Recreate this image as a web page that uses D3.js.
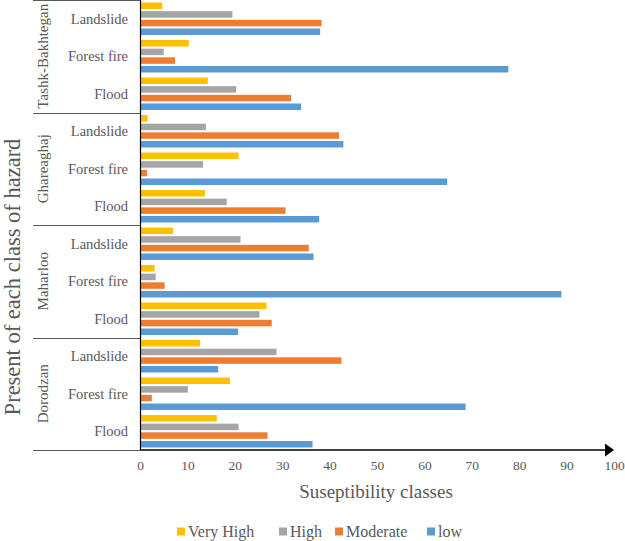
<!DOCTYPE html>
<html>
<head>
<meta charset="utf-8">
<script src="https://cdn.jsdelivr.net/npm/d3@7"></script>
<style>
  html, body { margin: 0; padding: 0; background: #fff; }
  svg { display: block; }
</style>
</head>
<body>
<script>
// ---- data ----
const regions = ["Tashk-Bakhtegan", "Ghareaghaj", "Maharloo", "Dorodzan"];
const hazards = ["Landslide", "Forest fire", "Flood"];
const seriesNames = ["Very High", "High", "Moderate", "low"];
const seriesColors = ["#FFC000", "#A5A5A5", "#ED7D31", "#5B9BD5"];
// values in order: region (top to bottom) x hazard (top to bottom)
const veryHigh = [4.7, 10.3, 14.3, 1.6, 20.8, 13.7, 7.0, 3.1, 26.7, 12.7, 19.0, 16.2];
const high     = [19.5, 5.0, 20.3, 13.9, 13.3, 18.3, 21.2, 3.3, 25.2, 28.8, 10.1, 20.8];
const moderate = [38.3, 7.4, 31.9, 42.0, 1.5, 30.7, 35.6, 5.2, 27.8, 42.5, 2.5, 26.9];
const low      = [38.0, 77.7, 34.0, 42.9, 64.8, 37.8, 36.6, 88.9, 20.7, 16.5, 68.7, 36.4];
const xTicks = [0, 10, 20, 30, 40, 50, 60, 70, 80, 90, 100];

const seriesValues = [veryHigh, high, moderate, low];

// ---- layout ----
const FONT = "'Liberation Serif', serif";
const TXT = "#595959";
const W = 625, H = 541;
const plotLeft = 140, plotRight = 614, plotTop = 0, plotBottom = 450;
const sepLeft = 33;

const svg = d3.select("body").append("svg").attr("width", W).attr("height", H);

const rows = [];
regions.forEach(r => hazards.forEach(h => rows.push(r + "|" + h)));

const x = d3.scaleLinear().domain([0, 100]).range([plotLeft, plotRight]);
const y = d3.scaleBand().domain(rows).range([plotTop, plotBottom]).paddingInner(0).paddingOuter(0);
const ySub = d3.scaleBand().domain(seriesNames).range([0, y.bandwidth()]).paddingInner(0.25).paddingOuter(0.29);
const yGroup = d3.scaleBand().domain(regions).range([plotTop, plotBottom]);

// bars
const barData = [];
rows.forEach((row, i) => {
  seriesNames.forEach((s, j) => {
    barData.push({ row, s, v: seriesValues[j][i], c: seriesColors[j] });
  });
});
svg.append("g").selectAll("rect").data(barData).join("rect")
  .attr("x", x(0))
  .attr("y", d => y(d.row) + ySub(d.s))
  .attr("width", d => x(d.v) - x(0))
  .attr("height", ySub.bandwidth())
  .attr("fill", d => d.c);

// group separator lines (top, between groups, bottom)
const sepYs = regions.map(r => yGroup(r)).concat([plotBottom]);
svg.append("g").selectAll("line").data(sepYs).join("line")
  .attr("x1", sepLeft).attr("x2", plotLeft)
  .attr("y1", d => Math.round(d) + 0.5).attr("y2", d => Math.round(d) + 0.5)
  .attr("stroke", "#595959").attr("stroke-width", 1.2);

// vertical axis line
svg.append("line")
  .attr("x1", plotLeft + 0.5).attr("x2", plotLeft + 0.5)
  .attr("y1", plotTop).attr("y2", plotBottom)
  .attr("stroke", "#000").attr("stroke-width", 1.2);

// x axis with arrow
svg.append("line")
  .attr("x1", plotLeft).attr("x2", x(100) - 6)
  .attr("y1", plotBottom).attr("y2", plotBottom)
  .attr("stroke", "#000").attr("stroke-width", 1.5);
svg.append("path")
  .attr("d", `M${x(100)},${plotBottom} L${x(100) - 9},${plotBottom - 6.5} L${x(100) - 9},${plotBottom + 6.5} Z`)
  .attr("fill", "#000");

// x tick labels via axis
const xAxis = d3.axisBottom(x).tickValues(xTicks).tickSize(0).tickPadding(0).tickFormat(d3.format("d"));
const gx = svg.append("g").attr("transform", `translate(0,${plotBottom + 10})`).call(xAxis)
  .attr("font-family", FONT).attr("font-size", 13.5);
gx.select(".domain").remove();
gx.selectAll("text")
  .attr("dy", "0.71em")
  .attr("fill", TXT);

// hazard category labels
svg.append("g").attr("font-family", FONT).attr("font-size", 14.5).attr("fill", TXT)
  .selectAll("text").data(rows).join("text")
  .attr("x", 128)
  .attr("y", d => y(d) + y.bandwidth() / 2)
  .attr("dy", "0.35em")
  .attr("text-anchor", "end")
  .text(d => d.split("|")[1]);

// region labels (rotated)
svg.append("g").attr("font-family", FONT).attr("font-size", 15).attr("fill", TXT)
  .selectAll("text").data(regions).join("text")
  .attr("transform", d => `translate(48,${yGroup(d) + yGroup.bandwidth() / 2}) rotate(-90)`)
  .attr("text-anchor", "middle")
  .text(d => d);

// y axis title
svg.append("text")
  .attr("font-family", FONT).attr("font-size", 22.5).attr("fill", TXT)
  .attr("transform", `translate(20,277) rotate(-90)`)
  .attr("text-anchor", "middle")
  .text("Present of each class of hazard");

// x axis title
svg.append("text")
  .attr("font-family", FONT).attr("font-size", 19).attr("fill", TXT)
  .attr("x", 376).attr("y", 498)
  .attr("text-anchor", "middle")
  .text("Suseptibility classes");

// legend
const legendX = [177, 279, 335, 427];
const lg = svg.append("g").attr("font-family", FONT).attr("font-size", 16).attr("fill", TXT)
  .selectAll("g").data(seriesNames).join("g")
  .attr("transform", (d, i) => `translate(${legendX[i]},527.5)`);
lg.append("rect").attr("width", 8).attr("height", 8).attr("fill", (d, i) => seriesColors[i]);
lg.append("text").attr("x", 11).attr("y", 4).attr("dy", "0.35em").text(d => d);
</script>
</body>
</html>
